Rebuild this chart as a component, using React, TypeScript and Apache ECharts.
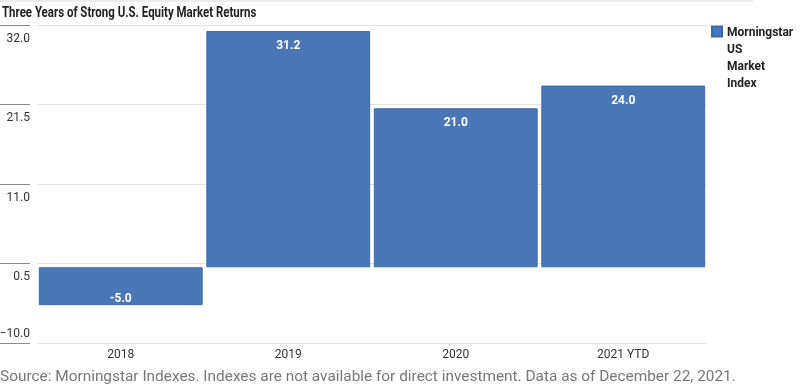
import React, { useEffect, useRef } from "react";
import * as echarts from "echarts";

const categories = ["2018", "2019", "2020", "2021 YTD"];
const values = [-5.0, 31.2, 21.0, 24.0];
const tickValues = [-10.0, 0.5, 11.0, 21.5, 32.0];
const seriesName = "Morningstar\nUS\nMarket\nIndex";
const title = "Three Years of Strong U.S. Equity Market Returns";
const source =
  "Source: Morningstar Indexes. Indexes are not available for direct investment. Data as of December 22, 2021.";

const FONT = "Roboto, 'Liberation Sans', sans-serif";
const BAR = "#4a77b6";

export default function App() {
  const ref = useRef<HTMLDivElement>(null);
  useEffect(() => {
    if (!ref.current) return;
    const chart = echarts.init(ref.current, undefined, { renderer: "svg" });
    const yMin = tickValues[0];
    const yMax = tickValues[tickValues.length - 1];
    const step = tickValues[1] - tickValues[0];
    chart.setOption({
      animation: false,
      textStyle: { fontFamily: FONT },
      graphic: [
        {
          type: "line",
          shape: { x1: 0, y1: 1, x2: 753, y2: 1 },
          style: { stroke: "#d9d9d9", lineWidth: 1 },
        },
        {
          type: "text",
          x: 2,
          y: 5,
          scaleX: 0.82,
          style: {
            text: title,
            font: `bold 14px ${FONT}`,
            fill: "#222",
            verticalAlign: "top",
            align: "left",
          },
        },
        {
          type: "text",
          x: 0,
          y: 369,
          scaleX: 1.1,
          style: {
            text: source,
            font: `14px ${FONT}`,
            fill: "#777",
            verticalAlign: "top",
            align: "left",
          },
        },
      ],
      legend: {
        left: 711,
        top: -28,
        padding: 0,
        orient: "vertical",
        itemWidth: 10,
        itemHeight: 10,
        itemGap: 4,
        icon: "rect",
        formatter: (name: string) => "\n\n\n" + name,
        textStyle: {
          fontFamily: FONT,
          fontSize: 12,
          fontWeight: "bold",
          color: "#222",
          lineHeight: 17,
        },
        data: [{ name: seriesName }],
      },
      grid: {
        left: 37,
        right: 93,
        top: 25,
        bottom: 44,
        containLabel: false,
        outerBoundsMode: "none",
      },
      xAxis: {
        type: "category",
        data: categories,
        axisLine: { show: false },
        axisTick: { show: false },
        axisLabel: { color: "#333", fontSize: 12, fontFamily: FONT, margin: 5 },
      },
      yAxis: [
        {
          type: "value",
          min: 0,
          max: yMax - yMin,
          interval: step,
          offset: 7,
          axisLine: { show: false },
          axisTick: { show: true, length: 30, lineStyle: { color: "#888", width: 1 } },
          splitLine: { show: true, lineStyle: { color: "#e3e3e3", width: 1 } },
          axisLabel: {
            margin: 0,
            fontFamily: FONT,
            color: "#333",
            fontSize: 12,
            formatter: (v: number) => {
              const real = v + yMin;
              if (Math.abs(v) < 1e-6) return "{b|" + "\u2212" + Math.abs(real).toFixed(1) + "}";
              return "{a|" + real.toFixed(1) + "}";
            },
            rich: {
              a: { fontFamily: FONT, fontSize: 12, color: "#333", padding: [25, 0, 0, 0] },
              b: { fontFamily: FONT, fontSize: 12, color: "#333", padding: [0, 0, 20, 0] },
            },
          },
        },
        {
          type: "value",
          min: yMin,
          max: yMax,
          show: false,
          splitLine: { show: false },
        },
      ],
      series: [
        {
          name: seriesName,
          type: "bar",
          yAxisIndex: 1,
          barCategoryGap: "2.2%",
          itemStyle: { color: BAR, borderColor: "#3f69a6", borderWidth: 1 },
          label: {
            show: true,
            color: "#fff",
            fontWeight: "bold",
            fontSize: 12,
            fontFamily: FONT,
            formatter: (p: any) => Number(p.value).toFixed(1),
          },
          data: values.map((v) => ({
            value: v,
            label:
              v < 0
                ? { position: "insideBottom", distance: 1 }
                : { position: "insideTop", distance: 8 },
          })),
        },
      ],
    });
    return () => chart.dispose();
  }, []);
  return (
    <div
      ref={ref}
      style={{ position: "fixed", left: 0, top: 0, width: 800, height: 387 }}
    />
  );
}
